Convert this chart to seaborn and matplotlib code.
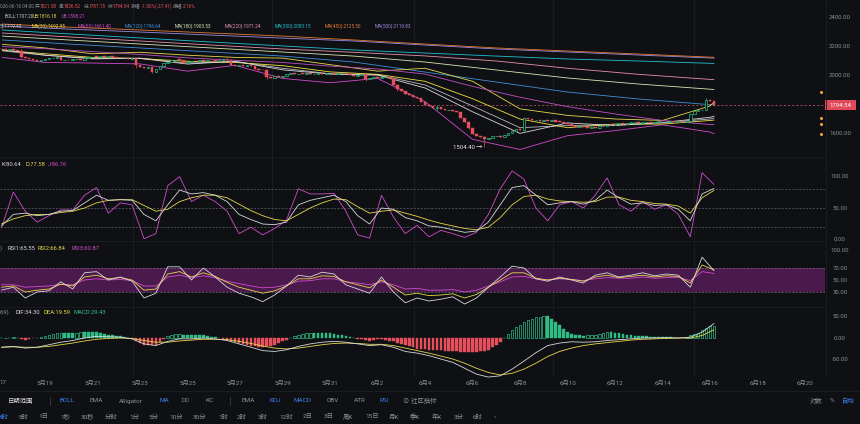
import numpy as np
import pandas as pd
import matplotlib
matplotlib.use('Agg')
import matplotlib.pyplot as plt
import seaborn as sns
from matplotlib.transforms import blended_transform_factory
from matplotlib.patches import Rectangle
from matplotlib.lines import Line2D

# ---------------- data ----------------
# 4H candles, last one is 2026-06-16 04:00
closes = [
    2180, 2176, 2185, 2178, 2170, 2125, 2120, 2112, 2105, 2100,
    2108, 2112, 2118, 2120, 2125, 2105, 2110, 2105, 2112, 2115,
    2110, 2118, 2125, 2130, 2128, 2135, 2128, 2132, 2125, 2120,
    2118, 2122, 2115, 2118, 2070, 2060, 2055, 2058, 2025, 2045,
    2065, 2085, 2095, 2105, 2110, 2108, 2085, 2095, 2100, 2098,
    2105, 2102, 2110, 2105, 2100, 2108, 2112, 2105, 2070, 2065,
    2070, 2068, 2072, 2065, 2045, 2040, 2035, 1990, 1985, 1995,
    1990, 2000, 2010, 2015, 2008, 2012, 2010, 2015, 2008, 2012,
    2018, 2010, 2015, 2020, 2012, 2015, 2018, 2010, 2005, 2000,
    2005, 2008, 1975, 1985, 1990, 1980, 1988, 1992, 1985, 1935,
    1910, 1890, 1870, 1865, 1850, 1845, 1820, 1800, 1790, 1775,
    1780, 1770, 1760, 1765, 1758, 1750, 1710, 1680, 1640, 1600,
    1580, 1575, 1560, 1570, 1580, 1585, 1578, 1592, 1605, 1620,
    1630, 1625, 1705, 1700, 1690, 1695, 1688, 1692, 1685, 1690,
    1682, 1680, 1675, 1665, 1650, 1648, 1655, 1645, 1640, 1645,
    1638, 1650, 1655, 1662, 1660, 1665, 1670, 1668, 1672, 1675,
    1678, 1672, 1676, 1680, 1674, 1678, 1682, 1676, 1680, 1682,
    1678, 1684, 1680, 1685, 1735, 1755, 1760, 1765, 1830, 1821.58,
    1794.54]
first_open = 2182.0
wick_idx = [5, 34, 38, 67, 92, 100, 110, 118, 122, 132, 174, 178, 180]
wick_hi = [2185, 2122, 2060, 2038, 2010, 1940, 1800, 1685, 1580, 1715, 1742, 1845, 1826.52]
wick_lo = [2118, 2055, 2015, 1975, 1965, 1895, 1760, 1630, 1504.40, 1620, 1680, 1760, 1787.15]
last_price = 1794.54
low_mark = 1504.40

# moving averages / bollinger (days since 5/17 00:00)
ma_days = [0.2, 2, 4, 6, 8, 10, 12, 14, 16, 18, 20, 22, 24, 26, 28, 30, 30.17]
ma15 = [2178, 2140, 2115, 2118, 2079, 2098, 2039, 2010, 2003, 1914, 1750, 1601, 1673, 1655, 1675, 1712, 1719.43]
ma30 = [2175, 2150, 2125, 2117, 2098, 2090, 2068, 2025, 2008, 1960, 1840, 1700, 1640, 1665, 1665, 1690, 1692.95]
ma60 = [2200, 2185, 2165, 2145, 2122, 2105, 2090, 2065, 2045, 2010, 1925, 1850, 1785, 1735, 1690, 1662, 1661.40]
boll_mid = [2170, 2140, 2118, 2120, 2085, 2097, 2050, 2012, 2005, 1935, 1790, 1640, 1655, 1660, 1675, 1700, 1707.20]
boll_ub = [2215, 2190, 2150, 2160, 2140, 2125, 2120, 2075, 2030, 2050, 1960, 1770, 1725, 1700, 1690, 1790, 1816.18]
boll_lb = [2125, 2090, 2086, 2080, 2030, 2070, 1980, 1950, 1980, 1820, 1560, 1490, 1585, 1620, 1660, 1610, 1598.21]

long_days = [0.2, 3, 6, 9, 12, 15, 18, 21, 24, 27, 30.17]
ma120 = [2245, 2217, 2190, 2162, 2134, 2093, 2024, 1955, 1886, 1838, 1796.64]
ma180 = [2272, 2245, 2217, 2190, 2162, 2134, 2093, 2038, 1983, 1941, 1903.53]
ma220 = [2293, 2266, 2238, 2210, 2183, 2160, 2135, 2100, 2050, 2008, 1971.24]
ma300 = [2314, 2287, 2259, 2231, 2204, 2176, 2155, 2134, 2114, 2100, 2083.15]
ma450 = [2355, 2334, 2314, 2293, 2272, 2245, 2217, 2190, 2169, 2148, 2125.50]
ma500 = [2341, 2320, 2300, 2279, 2258, 2238, 2210, 2183, 2162, 2141, 2119.83]

# indicators on a 12h grid
kdj_k = [22, 40, 42, 38, 40, 45, 46, 58, 70, 62, 63, 62, 40, 30, 55, 78, 72, 74, 70, 60,
         40, 32, 25, 24, 28, 55, 62, 66, 70, 60, 38, 25, 50, 48, 35, 30, 22, 20, 16, 12,
         14, 28, 55, 82, 85, 70, 55, 58, 60, 56, 62, 78, 66, 56, 58, 54, 55, 48, 30, 72, 80.64]
kdj_d = [25, 33, 38, 40, 40, 43, 45, 50, 58, 62, 63, 63, 54, 45, 48, 60, 66, 70, 70, 66,
         56, 46, 38, 32, 30, 40, 50, 58, 64, 63, 52, 42, 45, 47, 42, 37, 31, 26, 22, 18,
         16, 20, 35, 55, 68, 70, 64, 61, 60, 59, 60, 67, 67, 62, 60, 57, 56, 53, 42, 66, 77.58]
kdj_j = [19, 75, 45, 28, 38, 47, 47, 70, 82, 42, 58, 55, 2, 10, 85, 99, 60, 70, 60, 45,
         10, 20, 8, 18, 31, 80, 72, 72, 73, 45, 8, 3, 70, 36, 10, 23, 5, 15, 10, 4,
         12, 40, 80, 108, 95, 50, 30, 55, 60, 50, 70, 97, 55, 45, 60, 48, 55, 40, 5, 105, 86.76]
rsi1 = [33, 38, 20, 30, 32, 47, 35, 62, 64, 50, 55, 48, 20, 28, 72, 72, 50, 70, 55, 38,
        28, 22, 14, 25, 40, 58, 55, 63, 60, 42, 35, 28, 55, 30, 12, 20, 15, 18, 22, 10,
        20, 38, 55, 73, 70, 52, 48, 55, 50, 45, 58, 62, 55, 58, 62, 57, 60, 58, 38, 88, 65.55]
rsi2 = [38, 40, 30, 33, 35, 43, 40, 55, 58, 52, 54, 50, 33, 35, 60, 64, 55, 62, 56, 46,
        38, 33, 28, 32, 40, 52, 52, 57, 56, 47, 42, 37, 50, 38, 25, 28, 24, 25, 27, 20,
        26, 38, 50, 62, 62, 53, 50, 53, 51, 48, 55, 58, 54, 56, 58, 55, 57, 56, 45, 75, 66.84]
rsi3 = [42, 42, 38, 39, 40, 43, 42, 50, 52, 50, 51, 49, 40, 40, 55, 58, 54, 57, 54, 48,
        44, 40, 37, 38, 42, 48, 49, 52, 52, 47, 45, 42, 47, 42, 35, 36, 33, 33, 34, 30,
        33, 40, 47, 55, 56, 52, 50, 52, 51, 49, 52, 54, 53, 53, 55, 53, 54, 54, 49, 64, 60.87]
dif = [-22, -20, -24, -22, -16, -10, -6, 0, 4, 3, 2, -2, -14, -18, -8, -2, -2, 0, -2, -6,
       -14, -22, -30, -32, -28, -20, -14, -10, -8, -10, -14, -18, -16, -22, -32, -36, -42, -50, -58, -72,
       -86, -93, -90, -74, -55, -35, -18, -12, -9, -10, -9, -6, -4, -2, 0, 0, 1, 0, 2, 14, 34.30]
dea = [-22, -21, -22, -22, -20, -16, -12, -7, -3, -1, 0, -1, -6, -10, -10, -7, -5, -3, -3, -4,
       -8, -13, -19, -24, -26, -24, -20, -16, -13, -12, -13, -15, -15, -18, -24, -30, -36, -43, -50, -60,
       -72, -82, -88, -84, -74, -60, -44, -32, -24, -18, -14, -11, -8, -5, -3, -2, -1, 0, 0, 6, 19.59]
# MACD histogram, one bar per 4H candle
macd_hist = [
    0, 1, 1, 2, 0, -2, -4, -3, -1, 0, 3, 5, 8, 10, 11, 12, 12, 12, 12, 13, 14,
    14, 14, 14, 14, 12, 10, 8, 6, 5, 4, 2, 0, -2, -7, -12, -16, -17, -16, -16, -10, -3,
    4, 7, 9, 10, 8, 7, 6, 6, 6, 6, 4, 3, 2, 0, -2, -4, -7, -10, -12, -14, -16,
    -18, -20, -21, -22, -20, -18, -16, -12, -8, -4, 0, 4, 8, 10, 11, 12, 12, 12,
    12, 11, 11, 10, 8, 6, 4, 2, 0, -2, -3, -5, -6, -4, -3, -2, -4, -6, -8, -11, -14,
    -16, -18, -21, -25, -26, -27, -28, -28, -28, -28, -30, -31, -32, -32, -33, -33, -34, -34,
    -34, -32, -30, -28, -22, -16, -10, 0, 10, 20, 26, 32, 38, 42, 46, 50, 51, 52,
    52, 46, 38, 30, 22, 15, 10, 8, 6, 5, 6, 7, 8, 10, 12, 14, 14, 13,
    12, 10, 8, 6, 5, 5, 4, 4, 3, 3, 3, 3, 3, 2, 1, -1, -1, 2,
    6, 9, 12, 20, 24, 28, 29.43]
alert_prices = [1886, 1707, 1665, 1600]

date_days = list(range(2, 35, 2))
date_labels = ['5月19', '5月21', '5月23', '5月25', '5月27', '5月29', '5月31', '6月2', '6月4',
               '6月6', '6月8', '6月10', '6月12', '6月14', '6月16', '6月18', '6月20']

# ---------------- style ----------------
BG = '#0f1014'
GREEN = '#2ebd85'
RED = '#e5505c'
GRAY = '#8a8f98'
WHITE = '#d8d8d8'
YELLOW = '#e6d84a'
MAGENTA = '#d04ccc'
BLUE = '#3f8fd8'
CREAM = '#d6e6b0'
PINK = '#e890a8'
CYAN = '#22c0d0'
ORANGE = '#e07a32'
LAV = '#9a8ae0'
ACTIVE = '#3d7fe6'

sns.set_theme(style='dark')
plt.rcParams['font.family'] = ['Roboto', 'Noto Sans CJK SC', 'DejaVu Sans']
plt.rcParams['axes.unicode_minus'] = False

W, H = 860, 424
fig = plt.figure(figsize=(8.6, 4.24), dpi=100, facecolor=BG)


def rect(x0, y0, x1, y1):
    return [x0 / W, 1 - y1 / H, (x1 - x0) / W, (y1 - y0) / H]


ax_main = fig.add_axes(rect(0, 0, 825, 157))
ax_kdj = fig.add_axes(rect(0, 157, 825, 241), sharex=ax_main)
ax_rsi = fig.add_axes(rect(0, 241, 825, 307), sharex=ax_main)
ax_macd = fig.add_axes(rect(0, 307, 825, 378), sharex=ax_main)
axes = [ax_main, ax_kdj, ax_rsi, ax_macd]

XMIN, XMAX = 0.105, 34.84
grid_days = [5.705, 11.56, 17.54, 23.39, 29.33]
for ax in axes:
    ax.set_facecolor(BG)
    for s in ax.spines.values():
        s.set_visible(False)
    ax.tick_params(left=False, right=False, bottom=False, labelleft=False,
                   labelbottom=False, length=0)
    for gd in grid_days:
        ax.axvline(gd, color='#1d1f25', lw=0.6, zorder=0)
    ax.grid(False)

# ---------------- main panel ----------------
n = len(closes)
cl = np.array(closes, dtype=float)
op = np.r_[first_open, cl[:-1]]
cd = (np.arange(n) + 1) / 6.0
hi = np.maximum(op, cl)
lo = np.minimum(op, cl)
hi[wick_idx] = wick_hi
lo[wick_idx] = wick_lo
up = cl >= op
colors = np.where(up, GREEN, RED)

short_df = pd.DataFrame({'day': ma_days, 'UB': boll_ub, 'LB': boll_lb, 'BOLL': boll_mid,
                         'MA60': ma60, 'MA30': ma30, 'MA15': ma15}).melt('day', var_name='name', value_name='value')
long_df = pd.DataFrame({'day': long_days, 'MA500': ma500, 'MA450': ma450, 'MA300': ma300,
                        'MA220': ma220, 'MA180': ma180, 'MA120': ma120}).melt('day', var_name='name', value_name='value')
main_df = pd.concat([long_df, short_df], ignore_index=True)
pal_main = {'MA500': LAV, 'MA450': ORANGE, 'MA300': CYAN, 'MA220': PINK, 'MA180': CREAM,
            'MA120': BLUE, 'UB': YELLOW, 'LB': MAGENTA, 'BOLL': '#b8b8c0', 'MA60': '#c050c0',
            'MA30': '#f0e040', 'MA15': WHITE}
sns.lineplot(data=main_df, x='day', y='value', hue='name', palette=pal_main,
             hue_order=list(pal_main.keys()), ax=ax_main, legend=False,
             estimator=None, sort=False, lw=0.6, zorder=2)

ax_main.vlines(cd, lo, hi, colors=colors, lw=0.5, zorder=3)
body = np.maximum(np.abs(cl - op), 5.0)
ax_main.bar(cd[up], body[up], bottom=lo[up] if False else np.minimum(op, cl)[up], width=0.11,
            facecolor=BG, edgecolor=GREEN, lw=0.5, zorder=4)
ax_main.bar(cd[~up], body[~up], bottom=np.minimum(op, cl)[~up], width=0.11,
            facecolor=RED, edgecolor=RED, lw=0.3, zorder=4)

ax_main.axhline(last_price, color='#d85a68', lw=0.5, ls=(0, (3, 3)), zorder=1)
ax_main.text(cd[122] - 0.08, low_mark, '1504.40 →', color='#e6e6e6', fontsize=4.3,
             ha='right', va='center', zorder=5)
ax_main.scatter([34.66] * len(alert_prices), alert_prices, s=5, color='#e0a83a', zorder=5, lw=0)
ax_main.set_ylim(1438, 2520.7)
ax_main.set_xlim(XMIN, XMAX)
ax_main.set_xlabel('')
ax_main.set_ylabel('')

# ---------------- KDJ ----------------
ind_days = 1 / 6 + 0.5 * np.arange(len(kdj_k))
kdj_df = pd.DataFrame({'day': ind_days, 'J': kdj_j, 'D': kdj_d, 'K': kdj_k}).melt('day', var_name='name', value_name='value')
sns.lineplot(data=kdj_df, x='day', y='value', hue='name', palette={'J': MAGENTA, 'D': YELLOW, 'K': WHITE},
             hue_order=['J', 'D', 'K'], ax=ax_kdj, legend=False, estimator=None, sort=False, lw=0.6)
for lvl in (80, 50, 20):
    ax_kdj.axhline(lvl, color='#5e626b', lw=0.5, ls=(0, (3, 2)), zorder=1)
ax_kdj.set_ylim(-1.56, 129.7)
ax_kdj.set_xlabel('')
ax_kdj.set_ylabel('')

# ---------------- RSI ----------------
ax_rsi.axhspan(30, 70, color='#4a1a4d', lw=0, zorder=0.5)
for lvl in (70, 30):
    ax_rsi.axhline(lvl, color='#7a6a80', lw=0.5, ls=(0, (3, 2)), zorder=1)
rsi_df = pd.DataFrame({'day': ind_days, 'RSI3': rsi3, 'RSI2': rsi2, 'RSI1': rsi1}).melt('day', var_name='name', value_name='value')
sns.lineplot(data=rsi_df, x='day', y='value', hue='name',
             palette={'RSI3': MAGENTA, 'RSI2': YELLOW, 'RSI1': WHITE},
             hue_order=['RSI3', 'RSI2', 'RSI1'], ax=ax_rsi, legend=False, estimator=None, sort=False, lw=0.6)
ax_rsi.set_ylim(5, 115)
ax_rsi.set_xlabel('')
ax_rsi.set_ylabel('')

# ---------------- MACD ----------------
hv = np.array(macd_hist, dtype=float)
prev = np.r_[hv[0], hv[:-1]]
pos = hv >= 0
rising = np.abs(hv) > np.abs(prev)
hollow = pos & rising
filled_g = pos & ~rising
neg = ~pos
ax_macd.bar(cd[hollow], hv[hollow], width=0.11, facecolor=BG, edgecolor=GREEN, lw=0.5, zorder=2)
ax_macd.bar(cd[filled_g], hv[filled_g], width=0.11, facecolor=GREEN, edgecolor=GREEN, lw=0.3, zorder=2)
ax_macd.bar(cd[neg], hv[neg], width=0.11, facecolor=RED, edgecolor=RED, lw=0.3, zorder=2)
macd_df = pd.DataFrame({'day': ind_days, 'DEA': dea, 'DIF': dif}).melt('day', var_name='name', value_name='value')
sns.lineplot(data=macd_df, x='day', y='value', hue='name', palette={'DEA': YELLOW, 'DIF': WHITE},
             hue_order=['DEA', 'DIF'], ax=ax_macd, legend=False, estimator=None, sort=False, lw=0.6, zorder=3)
ax_macd.set_ylim(-95.2, 73.8)
ax_macd.set_xlabel('')
ax_macd.set_ylabel('')
ax_macd.set_xticks(date_days)
ax_macd.set_xticklabels(date_labels)
ax_macd.tick_params(labelbottom=True, labelsize=4.5, labelcolor=GRAY, pad=2)
ax_macd.set_xlim(XMIN, XMAX)

# ---------------- right axis labels ----------------
def right_labels(ax, vals, texts):
    tr = blended_transform_factory(fig.transFigure, ax.transData)
    for v, t in zip(vals, texts):
        ax.text(840 / W, v, t, transform=tr, ha='center', va='center', fontsize=4.3, color=GRAY)


right_labels(ax_main, [2400, 2200, 2000, 1600], ['2400.00', '2200.00', '2000.00', '1600.00'])
right_labels(ax_kdj, [100, 50, 1], ['100.00', '50.00', '0.00'])
right_labels(ax_rsi, [100, 70, 50, 30], ['100.00', '70.00', '50.00', '30.00'])
right_labels(ax_macd, [50, 0, -50], ['50.00', '0.00', '-50.00'])

tr_main = blended_transform_factory(fig.transFigure, ax_main.transData)
ax_main.add_patch(Rectangle((825 / W, last_price - 34), 31 / W, 68, transform=tr_main,
                            facecolor='#e04a5a', edgecolor='none', clip_on=False, zorder=6))
ax_main.text(840.5 / W, last_price, '1794.54', transform=tr_main, ha='center', va='center',
             fontsize=4.3, color='white', zorder=7)

# separators
for yy in (157, 241, 307):
    fig.add_artist(Line2D([0, 825 / W], [1 - yy / H, 1 - yy / H], color='#1b1d22', lw=0.6))
fig.add_artist(Line2D([825.5 / W, 825.5 / W], [1 - 378 / H, 1], color='#1d1f25', lw=0.6))
fig.add_artist(Line2D([0, 1], [1 - 391 / H, 1 - 391 / H], color='#1e2026', lw=0.6))


# ---------------- header texts ----------------
def runs(items, y, fs):
    for s, x, c in items:
        fig.text(x / W, 1 - y / H, s, color=c, fontsize=fs, ha='left', va='center')


runs([('026-06-16 04:00', 0, GRAY), ('开', 35, GRAY), ('1821.58', 40, RED), ('高', 59, GRAY),
      ('1826.52', 64, RED), ('低', 84, GRAY), ('1787.15', 89, RED), ('收', 108, GRAY),
      ('1794.54', 113, RED), ('涨幅', 131, GRAY), ('-1.50%(-27.41)', 142, RED),
      ('振幅', 173, GRAY), ('2.16%', 183, RED)], 6, 3.4)
runs([('BOLL:1707.20', 5, '#c8c8c8'), ('UB:1816.18', 33, YELLOW), ('LB:1598.21', 62, MAGENTA)], 16, 3.4)
runs([('5):1719.43', 0, WHITE), ('MA(30):1692.95', 32, YELLOW), ('MA(60):1661.40', 78, MAGENTA),
      ('MA(120):1796.64', 125, BLUE), ('MA(180):1903.53', 175, CREAM), ('MA(220):1971.24', 225, PINK),
      ('MA(300):2083.15', 275, CYAN), ('MA(450):2125.50', 325, ORANGE), ('MA(500):2119.83', 375, LAV)], 26, 3.4)
runs([('K:80.64', 2, WHITE), ('D:77.58', 25, YELLOW), ('J:86.76', 48, MAGENTA)], 165, 4.2)
runs([(')', 0, GRAY), ('RSI1:65.55', 7, WHITE), ('RSI2:66.84', 38, YELLOW), ('RSI3:60.87', 71, MAGENTA)], 248, 4.2)
runs([('6,9)', 0, GRAY), ('DIF:34.30', 15, WHITE), ('DEA:19.59', 43, YELLOW), ('MACD:29.43', 74, GREEN)], 312, 4.2)
runs([('17', 0, GRAY)], 383, 4.5)

# ---------------- bottom toolbar ----------------
runs([('日期范围', 8, '#e2e2e2'), ('BOLL', 59, ACTIVE), ('EMA', 90, GRAY), ('Alligator', 119, GRAY),
      ('MA', 159, ACTIVE), ('DC', 182, GRAY), ('KC', 206, GRAY), ('EMA', 241, GRAY), ('KDJ', 269, ACTIVE),
      ('MACD', 293, ACTIVE), ('OBV', 327, GRAY), ('ATR', 354, GRAY), ('RSI', 380, ACTIVE),
      ('⊘ 社区指标', 403, GRAY), ('对数', 810, GRAY), ('%', 830, GRAY), ('自动', 842, ACTIVE)], 401, 4.6)
for xs in (50, 230):
    fig.add_artist(Line2D([xs / W, xs / W], [1 - 397 / H, 1 - 405 / H], color='#3a3d44', lw=0.6))
runs([('4时', -1, ACTIVE), ('8时', 19, GRAY), ('1日', 38, GRAY), ('1秒', 60, GRAY), ('30秒', 81, GRAY),
      ('分时', 105, GRAY), ('1分', 129, GRAY), ('5分', 148, GRAY), ('10分', 169, GRAY), ('30分', 193, GRAY),
      ('1时', 218, GRAY), ('2时', 237, GRAY), ('3时', 258, GRAY), ('12时', 279, GRAY), ('2日', 303, GRAY),
      ('3日', 324, GRAY), ('周K', 343, GRAY), ('15日', 365, GRAY), ('月K', 389, GRAY), ('季K', 410, GRAY),
      ('年K', 432, GRAY), ('3分', 454, GRAY), ('6时', 473, GRAY), ('‹', 494, GRAY)], 417, 4.6)

fig.savefig('out.png', dpi=100, facecolor=BG)
